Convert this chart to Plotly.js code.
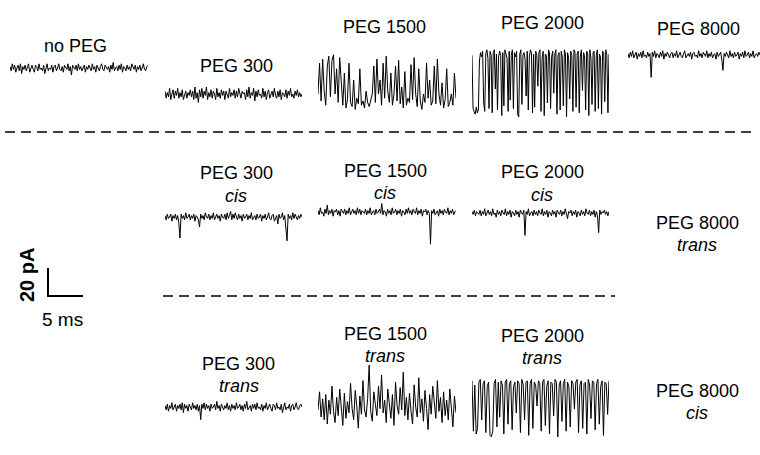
<!DOCTYPE html>
<html><head><meta charset="utf-8">
<script src="https://cdn.plot.ly/plotly-3.0.1.min.js"></script>
<style>html,body{margin:0;padding:0;background:#fff}#chart{width:760px;height:455px}</style>
</head><body><div id="chart"></div>
<script>
// Current traces (pA, relative to the upper current level)
const noPEG = [1,-2,3,-1,2,-3,0,2,-2,3,-4,1,-1,2,-2,1,3,-3,0,2,
 -1,-3,2,1,-2,3,-1,0,-2,2,-4,1,3,-2,0,-1,2,-3,1,2,
 -2,0,3,-1,-2,1,-3,2,0,-1,3,-2,1,-5,2,0,-1,2,-2,3,
 -1,1,-2,0,2,-3,1,-1,2,0,-2,3,-1,1,-3,2,0,-2,1,3,
 -1,-2,2,0,-1,1,-3,2,-1,4,-2,0,1,-2,2,-1,3,-3,1,0,
 -2,2,-1,1,-2,3,0,-1,2,-3,1,-1,2,-2,0,3,-1,-2,1,2];
const peg300 = [2,-3,1,-2,4,-4,0,3,-3,2,-1,4,-3,1,-2,3,-4,0,2,-3,
 1,-1,3,-2,2,-4,5,-3,1,-6,3,-2,4,-3,2,-1,5,-4,1,-2,
 3,-3,2,0,-4,4,-2,1,-3,3,-1,2,-4,2,0,-3,4,-2,1,-1,
 3,-3,2,-2,4,-1,-3,2,0,1,-4,3,-2,5,-3,1,-1,4,-5,2,
 -2,3,-1,0,-3,4,-2,2,-4,1,3,-3,0,2,-2,4,-1,-3,2,-2,
 3,-4,1,0,-2,3,-3,2,-1,4,-2,0,-3,2,-1,3,-2,1,-2,0];
const peg1500 = [-30,-8,-35,-5,-28,-38,-10,-3,-32,-6,-2,-30,-12,-36,-4,-25,-38,-15,-40,-34,-8,-36,-39,-20,-41,-33,-37,-12,-38,-35,-40,-28,-36,-39,-34,-30,-10,-36,-5,-30,-20,-38,-8,-33,-3,-28,-36,-15,-38,-30,-10,-35,-6,-37,-25,-40,-14,-38,-33,-36,-9,-34,-4,-30,-39,-12,-35,-41,-30,-36,-8,-33,-20,-38,-35,-10,-37,-5,-30,-38,-22,-40,-34,-12,-39,-36,-30,-38,-15,-33];
const peg2000 = [-6,-44,-46,-48,-43,-47,-45,-10,-4,-7,-3,-40,-46,-5,-2,-8,-44,-3,-6,-47,
 -4,-2,-30,-5,-45,-7,-3,-6,-49,-4,-42,-2,-5,-8,-46,-3,-38,-6,-2,-44,
 -4,-7,-3,-48,-50,-5,-2,-41,-6,-4,-9,-35,-3,-45,-7,-2,-4,-47,-5,-43,
 -3,-6,-28,-4,-2,-46,-8,-3,-49,-5,-6,-40,-2,-4,-44,-7,-3,-33,-5,-2,
 -48,-6,-4,-45,-3,-7,-42,-2,-5,-50,-4,-8,-37,-3,-6,-46,-2,-4,-43,-5,
 -3,-47,-7,-2,-31,-4,-6,-45,-3,-5,-49,-2,-8,-41,-4,-3,-46,-6,-2,-44,
 -5,-7,-48,-3,-4,-39,-2,-6,-47,-5];
const peg8000 = [1,-2,2,-1,3,-2,0,2,-3,1,-1,2,-2,3,-1,0,-2,2,-1,1,
 -16,2,-1,3,-2,1,0,-2,2,-1,3,-3,1,-1,2,0,-2,1,2,-2,
 1,-1,3,-2,0,2,-1,-2,1,3,-2,0,1,-1,2,-3,1,2,-1,0,
 -2,3,-1,1,-2,2,0,-1,3,-2,1,-1,2,-2,0,1,-3,2,-1,1,
 2,-3,-11,1,-1,2,0,-2,3,-1,1,-2,2,-1,0,2,-3,1,-1,2,
 -2,3,-1,0,2,-2,1,-1,3,-2,0,1,-1,2,0];
const peg300cis = [1,-2,2,-1,0,2,-3,1,-1,2,-2,1,-4,-15,2,-1,1,-2,3,-1,
 0,2,-2,1,-1,2,-3,1,0,-2,-7,2,-1,1,-2,3,0,-1,2,-2,
 1,-1,3,-2,0,2,-1,1,-3,2,0,-1,2,-2,3,-1,1,4,-2,2,
 -1,3,0,-2,2,-1,1,-3,2,-1,0,2,-2,1,-1,3,-2,0,1,-2,
 2,-1,0,2,-3,1,-1,2,-2,0,3,-1,-2,1,2,-3,0,1,-5,2,
 -1,0,3,-2,1,-6,-17,2,-1,1,-2,3,-1,2,0,-2,1,-1,2,0];
const peg1500cis = [1,-2,3,-1,0,-3,2,-1,5,-2,1,-1,2,-3,1,0,2,-2,1,-3,
 2,0,-1,2,-2,1,-1,3,-2,0,2,-1,1,-2,3,-1,2,-2,1,0,
 -1,2,-2,1,-1,3,-2,0,1,-2,2,-1,0,2,-1,6,-2,1,0,-3,
 2,-1,1,-2,3,-1,0,2,-2,1,-1,2,-3,1,0,-2,2,-1,3,-1,
 1,-2,2,0,-1,3,-2,1,-1,2,-3,1,0,2,-2,1,-1,-23,1,-1,
 2,-2,0,1,-3,2,-1,1,-2,2,0,-1,3,-2,1,-1,2,-2,0,1];
const peg2000cis = [1,-1,2,-2,1,0,-1,2,-2,1,-1,3,-2,0,2,-1,1,-2,3,-1,
 0,-3,2,-1,1,-2,2,0,-1,3,-2,1,-1,2,-3,1,0,-2,2,-1,
 1,-3,2,0,-1,2,-16,1,-1,3,-2,0,1,-2,2,-1,1,-2,2,0,
 -1,3,-2,1,-1,2,-3,1,0,-2,2,-1,1,-3,2,0,-1,2,-2,1,
 -1,3,-2,-4,1,0,2,-2,1,-1,2,-3,1,0,-2,2,-1,1,-2,3,
 0,-1,2,-2,1,-1,2,-3,1,-2,-14,2,-1,1,0,2,-1,1,-2,1];
const peg300trans = [1,-2,2,-3,1,-1,3,-2,0,2,-3,1,-1,2,-2,3,-4,2,-1,1,
 -3,2,0,-2,3,-1,1,-2,2,-3,1,-9,2,-1,3,-2,2,-1,1,-3,
 2,-1,0,2,-2,4,-1,1,-3,2,0,-2,1,-1,3,-2,1,-3,2,-1,
 1,-2,3,-1,0,2,-2,1,-3,2,-1,4,-2,0,1,-3,2,-1,2,-2,
 3,-1,0,-2,2,-3,1,-1,3,-2,0,2,-1,-3,2,1,-2,3,-1,0,
 -2,2,-4,1,3,-2,0,-1,2,-3,1,2,-2,0,3,-1,-2,1,2,0];
const peg1500trans = [-5,8,-10,3,-12,6,-15,2,-8,12,-6,-14,4,-9,10,-3,-16,7,-11,1,-7,14,-4,-12,9,-2,-18,5,-8,16,-5,-10,3,27,-6,-13,8,-1,-9,12,-4,20,-7,2,-14,10,-3,-11,6,-16,15,-2,-8,11,-5,22,-9,4,-12,7,-6,-15,13,-3,-10,18,-7,3,-13,9,-4,-19,6,-8,12,-2,-11,16,-6,4,-14,8,-9,2,-12,10,-5,-17,5,-7];
const peg2000trans = [-2,-38,-5,-40,-36,-3,-1,-30,-4,-2,-39,-6,-3,-41,-42,-38,-4,-1,-35,-3,-28,-2,-5,-40,-3,-1,-33,-4,-2,-37,-6,-3,-25,-2,-4,-39,-1,-5,-30,-3,-2,-41,-4,-1,-36,-3,-5,-20,-2,-4,-38,-3,-1,-34,-6,-2,-40,-3,-4,-27,-1,-3,-42,-5,-2,-31,-4,-1,-38,-3,-6,-35,-2,-4,-22,-3,-1,-39,-5,-2,-36,-4,-3,-40,-1,-5,-29,-2,-3,-37,-4,-1,-33,-6,-2,-41,-3,-4,-26,-2];

const titleLines = ["no PEG","PEG 300","PEG 1500","PEG 2000","PEG 8000"];
const sideLabels = ["<i>cis</i>","<i>trans</i>"];
const scaleLabels = ["<b>20 pA</b>","5 ms"];

const W = 760, H = 455, K = 1.4; // px per pA (20 pA = 28 px)
const TRACE_MS = 20;
const FONT = "Liberation Sans, Arial, sans-serif";

const panels = [
  {y: noPEG,        x0: 10,  x1: 148, base: 68},
  {y: peg300,       x0: 165, x1: 302, base: 94},
  {y: peg1500,      x0: 318, x1: 456, base: 52},
  {y: peg2000,      x0: 472, x1: 609, base: 47},
  {y: peg8000,      x0: 628, x1: 760, base: 55},
  {y: peg300cis,    x0: 165, x1: 302, base: 217},
  {y: peg1500cis,   x0: 318, x1: 456, base: 212},
  {y: peg2000cis,   x0: 472, x1: 609, base: 213},
  {y: peg300trans,  x0: 165, x1: 302, base: 407},
  {y: peg1500trans, x0: 318, x1: 456, base: 403},
  {y: peg2000trans, x0: 472, x1: 609, base: 378}
];

const data = [];
const layout = {
  width: W, height: H,
  margin: {l: 0, r: 0, t: 0, b: 0},
  paper_bgcolor: "#fff", plot_bgcolor: "rgba(0,0,0,0)",
  showlegend: false,
  font: {family: FONT, color: "#000"},
  shapes: [], annotations: []
};

panels.forEach((p, i) => {
  const s = i === 0 ? "" : String(i + 1);
  data.push({
    type: "scatter", mode: "lines", y: p.y, x0: 0, dx: TRACE_MS / (p.y.length - 1),
    xaxis: "x" + s, yaxis: "y" + s, line: {color: "#000", width: 1}, hoverinfo: "skip"
  });
  const top = Math.max(0, p.base - 45), bot = Math.min(H, p.base + 80);
  layout["xaxis" + s] = {domain: [p.x0 / W, p.x1 / W], range: [0, TRACE_MS], visible: false, anchor: "y" + s, fixedrange: true};
  layout["yaxis" + s] = {domain: [1 - bot / H, 1 - top / H], range: [-(bot - p.base) / K, (p.base - top) / K], visible: false, anchor: "x" + s, fixedrange: true};
});

function px(x) { return x / W; }
function py(y) { return 1 - y / H; }
function hline(x0, x1, y, dash, w) {
  layout.shapes.push({type: "line", xref: "paper", yref: "paper", x0: px(x0), x1: px(x1), y0: py(y), y1: py(y), line: {color: "#000", width: w, dash: dash}});
}
hline(5, 757, 132, "10px,6px", 1.5);
hline(163, 615, 296, "10px,6px", 1.5);
// scale bar
layout.shapes.push({type: "line", xref: "paper", yref: "paper", x0: px(48), x1: px(48), y0: py(268), y1: py(296), line: {color: "#000", width: 2}});
hline(47, 83, 296, "solid", 2);

function label(text, x, y, extra) {
  layout.annotations.push(Object.assign({text: text, xref: "paper", yref: "paper", x: px(x), y: py(y), showarrow: false,
    xanchor: "center", yanchor: "middle", font: {family: FONT, size: 18, color: "#000"}}, extra || {}));
}
label(titleLines[0], 75, 46);
label(titleLines[1], 236, 66);
label(titleLines[2], 384, 27);
label(titleLines[3], 542, 23);
label(titleLines[4], 698, 29);
label(titleLines[1], 236, 173); label(sideLabels[0], 236, 196);
label(titleLines[2], 385, 171); label(sideLabels[0], 385, 193);
label(titleLines[3], 542, 172); label(sideLabels[0], 542, 195);
label(titleLines[4], 697, 223); label(sideLabels[1], 697, 245);
label(titleLines[1], 239, 364); label(sideLabels[1], 239, 386);
label(titleLines[2], 385, 334); label(sideLabels[1], 385, 356);
label(titleLines[3], 542, 336); label(sideLabels[1], 542, 358);
label(titleLines[4], 697, 391); label(sideLabels[0], 697, 413);
label(scaleLabels[0], 27, 275, {textangle: -90, font: {family: FONT, size: 20, color: "#000"}});
label(scaleLabels[1], 63, 319, {font: {family: FONT, size: 19, color: "#000"}});

Plotly.newPlot("chart", data, layout, {staticPlot: true, displayModeBar: false});
</script>
</body></html>
